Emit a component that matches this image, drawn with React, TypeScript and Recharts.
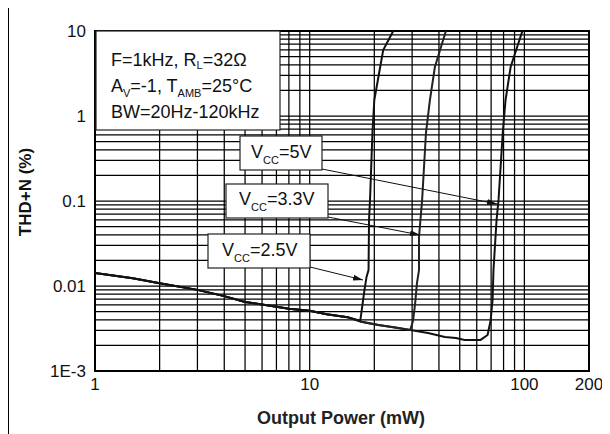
import { LineChart, Line, XAxis, YAxis, CartesianGrid, ReferenceArea } from 'recharts';

// output power (mW) / THD+N (%)
const vcc25Power = [1, 1.5, 2, 3, 4, 5, 7, 8, 10, 12, 15, 17.2, 17.4, 18.0, 18.4, 18.8, 18.9, 19.1, 19.6, 20.0, 21.3, 22.0, 24.5];
const vcc25Thd = [0.0142, 0.0123, 0.0108, 0.009, 0.0076, 0.0065, 0.0057, 0.0054, 0.0051, 0.00465, 0.0043, 0.0039, 0.0048, 0.009, 0.0128, 0.0154, 0.06, 0.103, 0.63, 1.54, 3.77, 5.97, 10];

const vcc33Power = [1, 1.5, 2, 3, 4, 5, 7, 8, 10, 12, 15, 17.4, 20.9, 25.0, 29.4, 30.3, 31.0, 31.6, 32.3, 32.3, 33.4, 34.8, 36.3, 38.3, 43.1];
const vcc33Thd = [0.0142, 0.0123, 0.0108, 0.009, 0.0076, 0.0065, 0.0057, 0.0054, 0.0051, 0.00465, 0.0043, 0.0038, 0.00347, 0.00324, 0.00304, 0.0039, 0.0063, 0.0108, 0.0154, 0.0377, 0.103, 0.63, 1.54, 3.77, 10];

const vcc5Power = [1, 1.5, 2, 3, 4, 5, 7, 8, 10, 12, 15, 17.4, 20.9, 25.0, 29.4, 35.6, 42.6, 48, 52.7, 62.5, 67.4, 69.6, 71.1, 71.8, 74.2, 75.8, 79.3, 81.7, 86.3, 97.9];
const vcc5Thd = [0.0142, 0.0123, 0.0108, 0.009, 0.0076, 0.0065, 0.0057, 0.0054, 0.0051, 0.00465, 0.0043, 0.0038, 0.00347, 0.00324, 0.00304, 0.0028, 0.00251, 0.00245, 0.00232, 0.00232, 0.00265, 0.0039, 0.00684, 0.0154, 0.0598, 0.103, 0.63, 1.54, 3.77, 10];

const xTicks = [1, 2, 3, 4, 5, 6, 7, 8, 9, 10, 20, 30, 40, 50, 60, 70, 80, 90, 100, 200];
const yTicks = [
  0.001, 0.002, 0.003, 0.004, 0.005, 0.006, 0.007, 0.008, 0.009,
  0.01, 0.02, 0.03, 0.04, 0.05, 0.06, 0.07, 0.08, 0.09,
  0.1, 0.2, 0.3, 0.4, 0.5, 0.6, 0.7, 0.8, 0.9,
  1, 2, 3, 4, 5, 6, 7, 8, 9, 10,
];
const xLabels: Record<number, string> = { 1: '1', 10: '10', 100: '100', 200: '200' };
const yLabels: Record<number, string> = { 10: '10', 1: '1', 0.1: '0.1', 0.01: '0.01', 0.001: '1E-3' };

const zip = (xs: number[], ys: number[]) => xs.map((x, i) => ({ x, y: ys[i] }));

const FONT = '"Liberation Sans", Arial, sans-serif';

function VccBox({ x, y, w, tx, base, v }: { x: number; y: number; w: number; tx: number; base: number; v: string }) {
  return (
    <g>
      <rect x={x} y={y} width={w} height={34} fill="#fff" stroke="#222" strokeWidth={1.2} />
      <text x={tx} y={base} fontSize={18} fill="#111" fontFamily={FONT}>
        V<tspan fontSize={11} dy={6}>CC</tspan>
        <tspan dy={-6}>={v}</tspan>
      </text>
    </g>
  );
}

export default function App() {
  return (
    <div
      style={{
        position: 'relative',
        marginTop: -4,
        marginLeft: -1,
        width: 603,
        height: 430,
        boxSizing: 'border-box',
        borderLeft: '2px solid #000',
        borderTop: '2px solid #000',
        overflow: 'hidden',
        background: '#fff',
      }}
    >
      <LineChart width={600} height={424} margin={{ top: 25, right: 20, left: 0, bottom: 29 }}>
        <CartesianGrid stroke="#000" strokeWidth={1.25} />
        <XAxis
          dataKey="x"
          type="number"
          scale="log"
          domain={[1, 200]}
          allowDataOverflow
          ticks={xTicks}
          interval={0}
          tickFormatter={(v: number) => xLabels[v] ?? ''}
          tickLine={false}
          axisLine={false}
          tickSize={0}
          tickMargin={7}
          height={30}
          tick={{ fontSize: 17, fill: '#111', fontFamily: FONT }}
        />
        <YAxis
          type="number"
          scale="log"
          domain={[0.001, 10]}
          allowDataOverflow
          ticks={yTicks}
          interval={0}
          tickFormatter={(v: number) => yLabels[v] ?? ''}
          tickLine={false}
          axisLine={false}
          tickSize={0}
          tickMargin={9}
          width={86}
          tick={{ fontSize: 17, fill: '#111', fontFamily: FONT }}
        />
        <ReferenceArea x1={1} x2={200} y1={0.001} y2={10} fill="none" stroke="#000" strokeWidth={2} ifOverflow="visible" />
        <Line data={zip(vcc5Power, vcc5Thd)} dataKey="y" type="linear" stroke="#111" strokeWidth={2} dot={false} isAnimationActive={false} />
        <Line data={zip(vcc33Power, vcc33Thd)} dataKey="y" type="linear" stroke="#222" strokeWidth={2} dot={false} isAnimationActive={false} />
        <Line data={zip(vcc25Power, vcc25Thd)} dataKey="y" type="linear" stroke="#111" strokeWidth={2} dot={false} isAnimationActive={false} />
      </LineChart>

      {/* annotations and axis titles, page coordinates */}
      <svg width={610} height={434} style={{ position: 'absolute', left: -9, top: -6 }}>
        <defs>
          <marker id="arr" viewBox="0 0 10 6" refX={10} refY={3} markerWidth={10} markerHeight={6} markerUnits="userSpaceOnUse" orient="auto">
            <path d="M0,0 L10,3 L0,6 z" fill="#111" />
          </marker>
        </defs>
        <rect x={96} y={31} width={184} height={99} fill="#fff" stroke="#222" strokeWidth={1.2} />
        <g fontFamily={FONT} fontSize={18} fill="#111">
          <text x={111} y={66}>
            F=1kHz, R<tspan fontSize={11} dy={3}>L</tspan>
            <tspan dy={-3}>=32Ω</tspan>
          </text>
          <text x={111} y={92}>
            A<tspan fontSize={11} dy={5}>V</tspan>
            <tspan dy={-5}>=-1, T</tspan>
            <tspan fontSize={11} dy={5}>AMB</tspan>
            <tspan dy={-5}>=25°C</tspan>
          </text>
          <text x={111} y={118}>BW=20Hz-120kHz</text>
        </g>

        <line x1={322} y1={169} x2={497} y2={204} stroke="#111" strokeWidth={1} markerEnd="url(#arr)" />
        <line x1={328} y1={217} x2={420} y2={235} stroke="#111" strokeWidth={1} markerEnd="url(#arr)" />
        <line x1={310} y1={267} x2={363} y2={280} stroke="#111" strokeWidth={1} markerEnd="url(#arr)" />

        <VccBox x={240} y={136} w={82} tx={251} base={158} v="5V" />
        <VccBox x={226} y={184} w={102} tx={239} base={205} v="3.3V" />
        <VccBox x={208} y={234} w={102} tx={222} base={256} v="2.5V" />

        <text
          x={25}
          y={192}
          transform="rotate(-90 25 192)"
          textAnchor="middle"
          dominantBaseline="central"
          fontFamily={FONT}
          fontSize={17}
          fontWeight="bold"
          fill="#111"
        >
          THD+N (%)
        </text>
        <text x={341} y={424} textAnchor="middle" fontFamily={FONT} fontSize={18} fontWeight="bold" fill="#222">
          Output Power (mW)
        </text>
      </svg>
    </div>
  );
}
